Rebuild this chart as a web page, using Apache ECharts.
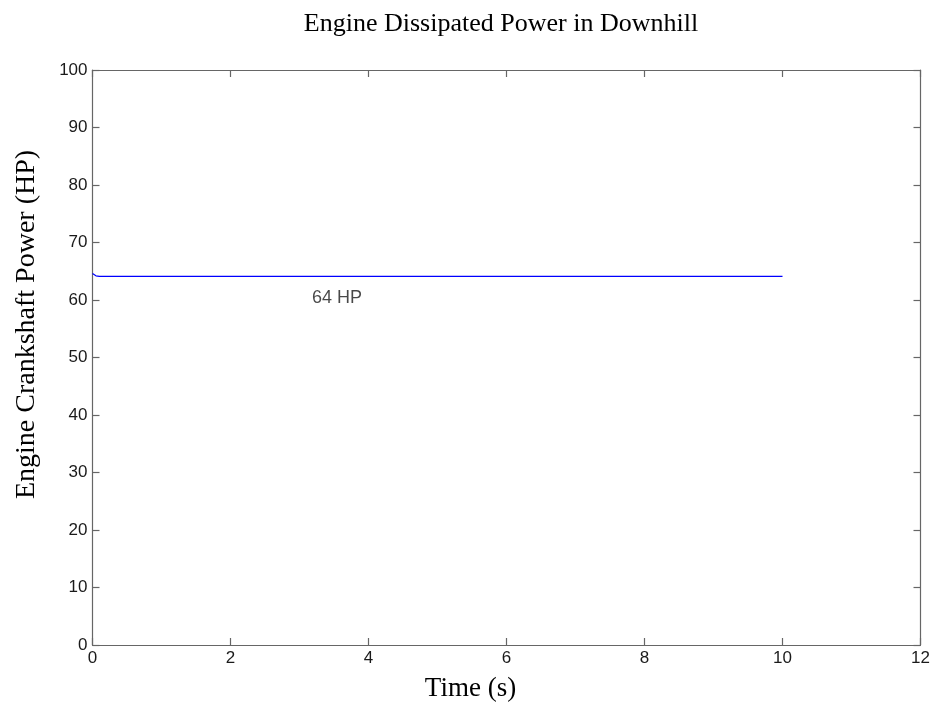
<!DOCTYPE html>
<html>
	<head>
		<meta charset="utf-8">
		<title>Engine Dissipated Power in Downhill</title>
		<style>
			html,body{margin:0;padding:0;background:#fff;}
			#main{width:935px;height:707px;}
		</style>
	</head>
	<body>
		<div id="main"></div>
	</body>
	<script src="https://cdn.jsdelivr.net/npm/echarts@6/dist/echarts.min.js"></script>
	<script>
		// data
		var timeS = [0, 0.05, 0.1, 10];
		var powerHP = [64.6, 64.2, 64.1, 64.1];
		var noteText = '64 HP';
		var notePos = [3.18, 60.4];

		var linePts = [];
		for (var i = 0; i < timeS.length; i++) {
			linePts.push([timeS[i], powerHP[i]]);
		}

		var tickFont = { color: '#1a1a1a', fontSize: 17, fontFamily: 'Liberation Sans', margin: 5 };
		var axisLineStyle = { color: '#666', width: 1.2 };

		// box axes: ticks inside, no labels on the far sides
		function boxAxis(min, max, step, pos) {
			return {
				type: 'value', min: min, max: max, interval: step, position: pos,
				axisLine: { show: true, onZero: false, lineStyle: axisLineStyle },
				axisTick: { show: true, inside: true, length: 7, lineStyle: axisLineStyle },
				axisLabel: { show: false },
				splitLine: { show: false }
			};
		}

		var myChart = echarts.init(document.getElementById('main'));
		var option = {
			animation: false,
			backgroundColor: '#fff',
			title: {
				text: 'Engine Dissipated Power in Downhill',
				left: 496, top: 6, textAlign: 'center',
				textStyle: { fontFamily: 'Liberation Serif', fontWeight: 'normal', fontSize: 26, color: '#000' }
			},
			grid: { left: 92.5, right: 14.5, top: 70, bottom: 61 },
			xAxis: [{
				type: 'value', min: 0, max: 12, interval: 2, position: 'bottom',
				name: 'Time (s)', nameLocation: 'middle', nameGap: 30,
				// MATLAB put the label a bit left of centre
				nameTextStyle: { fontFamily: 'Liberation Serif', fontSize: 27, color: '#000', padding: [0, 72, 0, 0] },
				axisLine: { show: true, onZero: false, lineStyle: axisLineStyle },
				axisTick: { show: true, inside: true, length: 7, lineStyle: axisLineStyle },
				axisLabel: tickFont,
				splitLine: { show: false }
			}, boxAxis(0, 12, 2, 'top')],
			yAxis: [{
				type: 'value', min: 0, max: 100, interval: 10, position: 'left',
				name: 'Engine Crankshaft Power (HP)', nameLocation: 'middle', nameGap: 52,
				nameTextStyle: { fontFamily: 'Liberation Serif', fontSize: 28, color: '#000', padding: [0, 0, 0, 66] },
				axisLine: { show: true, onZero: false, lineStyle: axisLineStyle },
				axisTick: { show: true, inside: true, length: 7, lineStyle: axisLineStyle },
				axisLabel: tickFont,
				splitLine: { show: false }
			}, boxAxis(0, 100, 10, 'right')],
			series: [{
				type: 'line',
				data: linePts,
				showSymbol: false,
				lineStyle: { color: '#0000ff', width: 1.2 },
				itemStyle: { color: '#0000ff' }
			}, {
				type: 'scatter',
				data: [notePos],
				symbolSize: 0,
				label: {
					show: true, position: 'right', distance: 0,
					formatter: noteText,
					fontFamily: 'Liberation Sans', fontSize: 18, color: '#1a1a1a'
				}
			}]
		};
		myChart.setOption(option);
	</script>
</html>
